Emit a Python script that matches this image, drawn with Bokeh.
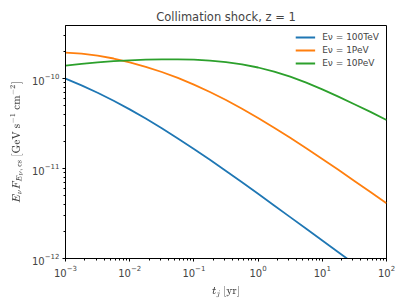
import numpy as np
from bokeh.plotting import figure
from bokeh.models import Legend, LegendItem, Range1d
from bokeh.embed import file_html
from bokeh.resources import INLINE

# data (log10 values)
log_t = [-3.0, -2.75, -2.5, -2.25, -2.0, -1.75, -1.5, -1.25, -1.0, -0.75, -0.5,
         -0.25, 0.0, 0.25, 0.5, 0.75, 1.0, 1.25, 1.5, 1.75, 2.0]
log_flux_100TeV = [-10.00, -10.075, -10.157, -10.246, -10.342, -10.444, -10.552, -10.665, -10.782,
                   -10.903, -11.027, -11.153, -11.281, -11.410, -11.540, -11.670, -11.800, -11.930,
                   -12.060, -12.190, -12.320]
log_flux_1PeV = [-9.71, -9.722, -9.744, -9.776, -9.818, -9.868, -9.926, -9.992, -10.066, -10.148,
                 -10.238, -10.335, -10.438, -10.546, -10.658, -10.774, -10.893, -11.014, -11.137,
                 -11.261, -11.386]
log_flux_10PeV = [-9.856, -9.835, -9.819, -9.806, -9.796, -9.789, -9.785, -9.785, -9.789, -9.799,
                  -9.816, -9.841, -9.876, -9.922, -9.978, -10.045, -10.12, -10.2, -10.285,
                  -10.37, -10.46]
labels = ["E\u03bd = 100TeV", "E\u03bd = 1PeV", "E\u03bd = 10PeV"]
colors = ["#1f77b4", "#ff7f0e", "#2ca02c"]

t = [10 ** v for v in log_t]
series = [[10 ** v for v in s] for s in (log_flux_100TeV, log_flux_1PeV, log_flux_10PeV)]

p = figure(frame_width=321, frame_height=233, x_axis_type="log", y_axis_type="log",
           output_backend="svg", toolbar_location=None,
           x_range=Range1d(1e-3, 1e2), y_range=Range1d(1e-12, 3.9e-10),
           min_border_left=65, min_border_right=12, min_border_top=25, min_border_bottom=36,
           title="Collimation shock, z = 1")
p.title.align = "center"
p.title.text_font = "DejaVu Sans"
p.title.text_font_size = "11.5px"
p.title.text_font_style = "normal"
p.title.standoff = 4

p.grid.visible = False
p.outline_line_color = "black"
p.outline_line_width = 1

for ax in (p.xaxis[0], p.yaxis[0]):
    ax.major_label_text_font = "DejaVu Sans"
    ax.major_label_text_font_size = "10px"
    ax.axis_label_text_font = "DejaVu Sans"
    ax.axis_label_text_font_size = "9px"
    ax.axis_label_text_font_style = "normal"
    ax.major_tick_in = 0
    ax.major_tick_out = 3
    ax.minor_tick_in = 0
    ax.minor_tick_out = 2
    ax.axis_line_color = "black"
    ax.major_label_standoff = 3
    ax.axis_label_standoff = 6

p.xaxis.axis_label = r"$$t_j$$ [yr]"
p.yaxis.axis_label = r"$$E_\nu F_{E_\nu,\,\mathrm{cs}}\ [\mathrm{GeV\ s^{-1}\ cm^{-2}}]$$"

items = []
for s, c, lab in zip(series, colors, labels):
    r = p.line(t, s, line_color=c, line_width=1.8)
    items.append(LegendItem(label=lab, renderers=[r]))

legend = Legend(items=items, location="top_right", label_text_font="DejaVu Sans",
                label_text_font_size="9px", border_line_alpha=0, background_fill_alpha=0.8,
                glyph_width=20, glyph_height=8, spacing=3, padding=4, margin=3,
                label_height=10, label_standoff=7)
p.add_layout(legend)

open("out.html", "w").write(file_html(p, INLINE))
